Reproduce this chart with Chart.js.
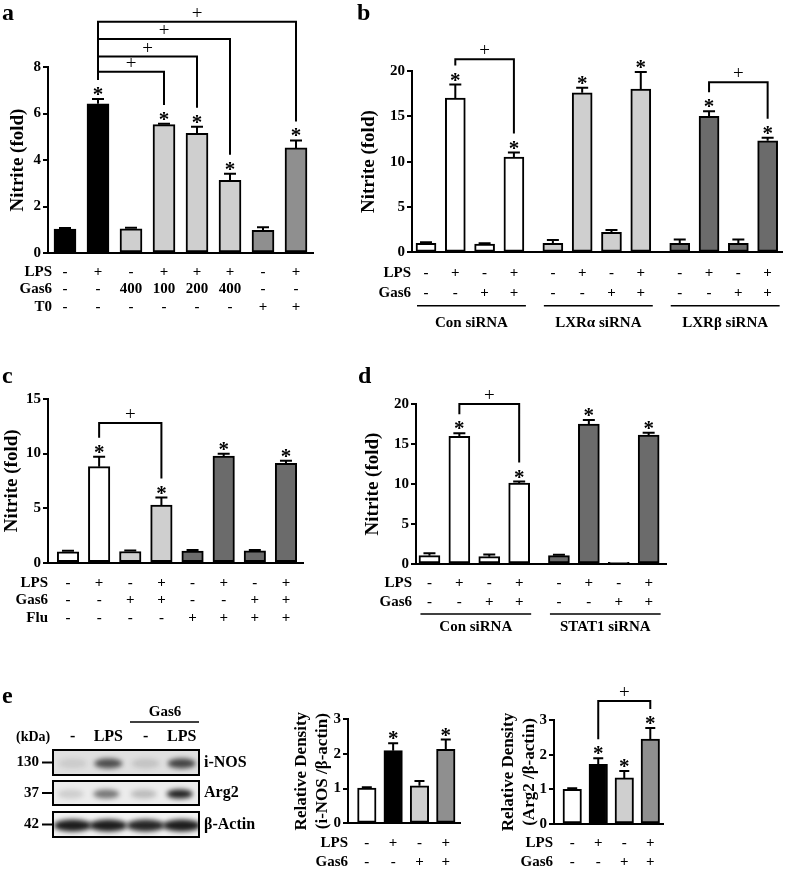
<!DOCTYPE html>
<html>
<head>
<meta charset="utf-8">
<script src="https://cdn.jsdelivr.net/npm/chart.js@4.4.1/dist/chart.umd.min.js"></script>
<style>
html, body { margin: 0; padding: 0; background: #fff; }
#wrap { position: relative; width: 787px; height: 870px; overflow: hidden; }
#wrap canvas { position: absolute; left: 0; top: 0; }
</style>
</head>
<body>
<div id="wrap">
  <canvas id="bg" width="787" height="870"></canvas>
  <canvas id="panelA" width="787" height="870"></canvas>
  <canvas id="panelB" width="787" height="870"></canvas>
  <canvas id="panelC" width="787" height="870"></canvas>
  <canvas id="panelD" width="787" height="870"></canvas>
  <canvas id="panelE1" width="787" height="870"></canvas>
  <canvas id="panelE2" width="787" height="870"></canvas>
</div>
<script>
const SERIF = '"Liberation Serif", "Times New Roman", Times, serif';
const W = 787, H = 870;

// ---- panel a ----
const aLPS = ['-', '+', '-', '+', '+', '+', '-', '+'];
const aGas6 = ['-', '-', '400', '100', '200', '400', '-', '-'];
const aT0 = ['-', '-', '-', '-', '-', '-', '+', '+'];
const aValues = [1.03, 6.42, 1.04, 5.52, 5.15, 3.13, 0.97, 4.52];
const aErrors = [0.05, 0.20, 0.04, 0.03, 0.28, 0.28, 0.14, 0.32];
const aStars = [1, 3, 4, 5, 7];
const aBrackets = [[1, 3, 7.8], [1, 4, 8.45], [1, 5, 9.2], [1, 7, 9.95]];
const aTicks = [0, 2, 4, 6, 8];

// ---- panel b ----
const bLPS = ['-', '+', '-', '+', '-', '+', '-', '+', '-', '+', '-', '+'];
const bGas6 = ['-', '-', '+', '+', '-', '-', '+', '+', '-', '-', '+', '+'];
const bGroups = ['Con siRNA', 'LXRα siRNA', 'LXRβ siRNA'];
const bValues = [1.0, 17.0, 0.9, 10.5, 1.0, 17.6, 2.2, 18.0, 1.0, 15.0, 1.0, 12.3];
const bErrors = [0.08, 1.5, 0.08, 0.5, 0.35, 0.55, 0.25, 1.9, 0.4, 0.55, 0.4, 0.35];
const bStars = [1, 3, 5, 7, 9, 11];
const bBrackets = [[1, 3, 21.3], [9, 11, 18.75]];
const bTicks = [0, 5, 10, 15, 20];

// ---- panel c ----
const cLPS = ['-', '+', '-', '+', '-', '+', '-', '+'];
const cGas6 = ['-', '-', '+', '+', '-', '-', '+', '+'];
const cFlu = ['-', '-', '-', '-', '+', '+', '+', '+'];
const cValues = [1.0, 8.8, 1.03, 5.27, 1.07, 9.78, 1.08, 9.1];
const cErrors = [0.06, 0.9, 0.06, 0.7, 0.05, 0.2, 0.06, 0.25];
const cStars = [1, 3, 5, 7];
const cBrackets = [[1, 3, 12.8]];
const cTicks = [0, 5, 10, 15];

// ---- panel d ----
const dLPS = ['-', '+', '-', '+', '-', '+', '-', '+'];
const dGas6 = ['-', '-', '+', '+', '-', '-', '+', '+'];
const dGroups = ['Con siRNA', 'STAT1 siRNA'];
const dValues = [1.04, 15.95, 0.92, 10.1, 1.04, 17.5, 0.22, 16.1];
const dErrors = [0.3, 0.4, 0.28, 0.2, 0.03, 0.5, 0.0, 0.3];
const dStars = [1, 3, 5, 7];
const dBrackets = [[1, 3, 20.0]];
const dTicks = [0, 5, 10, 15, 20];

// ---- panel e ----
const eLPS = ['-', '+', '-', '+'];
const eGas6 = ['-', '-', '+', '+'];
const e1Values = [1.01, 2.09, 1.08, 2.13];
const e1Errors = [0.02, 0.21, 0.14, 0.28];
const e1Stars = [1, 3];
const e2Values = [1.0, 1.72, 1.33, 2.45];
const e2Errors = [0.02, 0.18, 0.2, 0.32];
const e2Stars = [1, 2, 3];
const e2Brackets = [[1, 3, 3.55]];
const eTicks = [0, 1, 2, 3];

// western blot
const blotLanes = ['-', 'LPS', '-', 'LPS'];
const blotProteins = ['i-NOS', 'Arg2', 'β-Actin'];
const blotKda = ['130', '37', '42'];
const inosBands = [0.10, 0.72, 0.14, 0.78];
const arg2Bands = [0.14, 0.55, 0.22, 0.95];
const actinBands = [0.97, 0.97, 0.93, 0.97];

// colours
const WH = '#ffffff', BK = '#000000', LT = '#cfcfcf', MD = '#8f8f8f', DK = '#6b6b6b';
const aColors = [BK, BK, LT, LT, LT, LT, MD, MD];
const bColors = [WH, WH, WH, WH, LT, LT, LT, LT, DK, DK, DK, DK];
const cColors = [WH, WH, LT, LT, DK, DK, DK, DK];
const dColors = [WH, WH, WH, WH, DK, DK, DK, DK];
const eColors = [WH, BK, LT, MD];

const GROUP_GAP = 0.33;
const figs = {};

const figurePlugin = {
  id: 'figure',
  afterDraw(chart) {
    const f = figs[chart.canvas.id];
    const ctx = chart.ctx;
    const y = chart.scales.y;
    const xs = chart.getDatasetMeta(0).data.map(b => b.x);
    const base = y.getPixelForValue(0);
    const errTop = i => y.getPixelForValue(f.values[i] + f.errors[i]);
    ctx.save();
    ctx.strokeStyle = '#000';
    ctx.fillStyle = '#000';
    ctx.lineWidth = 2;
    // error bars (upper half only)
    f.values.forEach((v, i) => {
      if (!f.errors[i]) return;
      const top = y.getPixelForValue(v);
      const et = Math.min(errTop(i), top - 1);
      ctx.beginPath();
      ctx.moveTo(xs[i], top);
      ctx.lineTo(xs[i], et);
      ctx.moveTo(xs[i] - f.cap, et);
      ctx.lineTo(xs[i] + f.cap, et);
      ctx.stroke();
    });
    // asterisks
    ctx.font = 'bold 21px ' + SERIF;
    ctx.textAlign = 'center';
    ctx.textBaseline = 'alphabetic';
    f.stars.forEach(i => ctx.fillText('*', xs[i], errTop(i) + 2));
    // significance brackets
    ctx.font = '19px ' + SERIF;
    ctx.textBaseline = 'middle';
    (f.brackets || []).forEach(([i, j, lvl]) => {
      const t = y.getPixelForValue(lvl);
      ctx.beginPath();
      ctx.moveTo(xs[i], errTop(i) - 19);
      ctx.lineTo(xs[i], t);
      ctx.lineTo(xs[j], t);
      ctx.lineTo(xs[j], errTop(j) - 19);
      ctx.stroke();
      ctx.fillText('+', (xs[i] + xs[j]) / 2, t - 8);
    });
    // treatment rows
    ctx.font = 'bold 15px ' + SERIF;
    f.rows.forEach(([label, marks], r) => {
      const ry = base + f.rowTop + r * f.rowGap;
      ctx.textAlign = 'right';
      ctx.fillText(label, f.labelRight, ry);
      ctx.textAlign = 'center';
      marks.forEach((m, i) => ctx.fillText(m, xs[i], ry));
    });
    // siRNA groups
    (f.groups || []).forEach((g, k) => {
      const x1 = xs[k * 4] - 9, x2 = xs[k * 4 + 3] + 12;
      const ly = base + f.lineDy;
      ctx.lineWidth = 1.6;
      ctx.beginPath();
      ctx.moveTo(x1, ly);
      ctx.lineTo(x2, ly);
      ctx.stroke();
      ctx.textAlign = 'center';
      ctx.fillText(g, (x1 + x2) / 2, base + f.groupDy);
    });
    ctx.restore();
  }
};

function makePanel(id, p) {
  const lh = p.titleSize * p.titleLH;
  const yW = p.axisX - (p.titleX - lh / 2);
  const pos = p.values.map((v, i) => i + (p.grouped ? Math.floor(i / 4) * GROUP_GAP : 0));
  figs[id] = p;
  new Chart(document.getElementById(id), {
    type: 'bar',
    data: {
      datasets: [{
        data: p.values.map((v, i) => ({ x: pos[i], y: v })),
        backgroundColor: p.colors,
        borderColor: '#000',
        borderWidth: 2,
        borderSkipped: false,
        barThickness: p.barW
      }]
    },
    options: {
      responsive: false,
      animation: false,
      events: [],
      layout: { padding: { left: p.axisX - yW, right: W - p.right, top: p.top, bottom: H - p.zero } },
      plugins: { legend: { display: false }, tooltip: { enabled: false } },
      scales: {
        x: {
          type: 'linear',
          offset: false,
          min: p.xMin,
          max: p.xMax,
          grid: { display: false },
          ticks: { display: false },
          border: { display: true, width: 2, color: '#000' },
          afterFit: s => { s.height = 0; }
        },
        y: {
          min: 0,
          max: p.ticks[p.ticks.length - 1],
          afterBuildTicks: s => { s.ticks = p.ticks.map(v => ({ value: v })); },
          afterFit: s => { s.width = yW; },
          grid: { display: true, drawOnChartArea: false, drawTicks: true, tickLength: 5, lineWidth: 2, color: '#000' },
          border: { display: true, width: 2, color: '#000' },
          ticks: { color: '#000', padding: 2, font: { family: SERIF, size: 15, weight: 'bold' } },
          title: {
            display: true,
            text: p.title,
            color: '#000',
            padding: 0,
            font: { family: SERIF, size: p.titleSize, weight: 'bold', lineHeight: p.titleLH }
          }
        }
      }
    },
    plugins: [figurePlugin]
  });
}

makePanel('panelA', {
  values: aValues, errors: aErrors, stars: aStars, brackets: aBrackets, ticks: aTicks, colors: aColors,
  rows: [['LPS', aLPS], ['Gas6', aGas6], ['T0', aT0]],
  axisX: 48, right: 313, top: 67, zero: 253, xMin: -0.515, xMax: 7.515, barW: 22, cap: 6,
  title: 'Nitrite (fold)', titleX: 18.5, titleSize: 19, titleLH: 1.15,
  labelRight: 52, rowTop: 19, rowGap: 17.5
});

makePanel('panelB', {
  values: bValues, errors: bErrors, stars: bStars, brackets: bBrackets, ticks: bTicks, colors: bColors,
  rows: [['LPS', bLPS], ['Gas6', bGas6]], groups: bGroups, grouped: true,
  axisX: 412, right: 782, top: 71, zero: 252.3, xMin: -0.478, xMax: 12.15, barW: 20, cap: 6,
  title: 'Nitrite (fold)', titleX: 369, titleSize: 19, titleLH: 1.15,
  labelRight: 411, rowTop: 20.4, rowGap: 20.6, lineDy: 53.4, groupDy: 70.4
});

makePanel('panelC', {
  values: cValues, errors: cErrors, stars: cStars, brackets: cBrackets, ticks: cTicks, colors: cColors,
  rows: [['LPS', cLPS], ['Gas6', cGas6], ['Flu', cFlu]],
  axisX: 48, right: 303, top: 399, zero: 562.7, xMin: -0.642, xMax: 7.547, barW: 21.5, cap: 6,
  title: 'Nitrite (fold)', titleX: 12, titleSize: 19, titleLH: 1.15,
  labelRight: 48, rowTop: 20, rowGap: 17.8
});

makePanel('panelD', {
  values: dValues, errors: dErrors, stars: dStars, brackets: dBrackets, ticks: dTicks, colors: dColors,
  rows: [['LPS', dLPS], ['Gas6', dGas6]], groups: dGroups, grouped: true,
  axisX: 416, right: 666, top: 404, zero: 564, xMin: -0.45, xMax: 7.91, barW: 21, cap: 6,
  title: 'Nitrite (fold)', titleX: 373, titleSize: 19, titleLH: 1.15,
  labelRight: 412, rowTop: 19.3, rowGap: 18.7, lineDy: 50, groupDy: 62.7
});

makePanel('panelE1', {
  values: e1Values, errors: e1Errors, stars: e1Stars, ticks: eTicks, colors: eColors,
  rows: [['LPS', eLPS], ['Gas6', eGas6]],
  axisX: 348, right: 460, top: 719, zero: 823.3, xMin: -0.715, xMax: 3.54, barW: 18.5, cap: 5,
  title: ['Relative Density', '(i-NOS /β-actin)'], titleX: 301.5, titleSize: 17, titleLH: 1.24,
  labelRight: 348, rowTop: 19.4, rowGap: 19.6
});

makePanel('panelE2', {
  values: e2Values, errors: e2Errors, stars: e2Stars, brackets: e2Brackets, ticks: eTicks, colors: eColors,
  rows: [['LPS', eLPS], ['Gas6', eGas6]],
  axisX: 554, right: 663.3, top: 720, zero: 824, xMin: -0.7, xMax: 3.5, barW: 18.5, cap: 5,
  title: ['Relative Density', '(Arg2 /β-actin)'], titleX: 508.5, titleSize: 17, titleLH: 1.26,
  labelRight: 553, rowTop: 19, rowGap: 19.5
});

// panel letters and western blot
(function drawBackground() {
  const ctx = document.getElementById('bg').getContext('2d');
  ctx.fillStyle = '#000';
  ctx.font = 'bold 24px ' + SERIF;
  ctx.textBaseline = 'alphabetic';
  ctx.fillText('a', 2, 20);
  ctx.fillText('b', 357, 20);
  ctx.fillText('c', 2, 383);
  ctx.fillText('d', 358, 383);
  ctx.fillText('e', 2, 703);

  const laneX = [72.7, 108.3, 145.7, 181.7];
  const boxL = 53, boxR = 199;
  const rowBox = [[750, 775], [781, 805], [812, 837]];
  const bands = [inosBands, arg2Bands, actinBands];
  const bandW = [14, 13, 19];
  const bandH = [5, 4.5, 6];
  const bandDx = [0, -2, 0];
  const bgs = ['#e0e0e0', '#ececec', '#f3f3f3'];

  ctx.textBaseline = 'middle';
  ctx.font = 'bold 15px ' + SERIF;
  ctx.textAlign = 'center';
  ctx.fillText('Gas6', 165, 712);
  ctx.lineWidth = 1.6;
  ctx.beginPath(); ctx.moveTo(130, 722); ctx.lineTo(199, 722); ctx.stroke();
  ctx.font = 'bold 14px ' + SERIF;
  ctx.textAlign = 'left';
  ctx.fillText('(kDa)', 16, 737);
  ctx.font = 'bold 16px ' + SERIF;
  ctx.textAlign = 'center';
  blotLanes.forEach((l, i) => ctx.fillText(l, laneX[i], 737));

  rowBox.forEach(([t, b], r) => {
    const cy = (t + b) / 2;
    ctx.save();
    ctx.beginPath(); ctx.rect(boxL, t, boxR - boxL, b - t); ctx.clip();
    ctx.fillStyle = bgs[r];
    ctx.fillRect(boxL, t, boxR - boxL, b - t);
    ctx.filter = 'blur(2.5px)';
    bands[r].forEach((a, i) => {
      ctx.fillStyle = 'rgba(20,20,20,' + a + ')';
      ctx.beginPath();
      ctx.ellipse(laneX[i] + bandDx[r], cy + 1, bandW[r], bandH[r], 0, 0, Math.PI * 2);
      ctx.fill();
    });
    ctx.restore();
    ctx.lineWidth = 2;
    ctx.strokeStyle = '#000';
    ctx.strokeRect(boxL, t, boxR - boxL, b - t);
    ctx.beginPath(); ctx.moveTo(42, cy); ctx.lineTo(53, cy); ctx.stroke();
    ctx.fillStyle = '#000';
    ctx.font = 'bold 15px ' + SERIF;
    ctx.textAlign = 'right';
    ctx.fillText(blotKda[r], 39, cy);
    ctx.font = 'bold 16px ' + SERIF;
    ctx.textAlign = 'left';
    ctx.fillText(blotProteins[r], 204, cy);
  });
})();
</script>
</body>
</html>
